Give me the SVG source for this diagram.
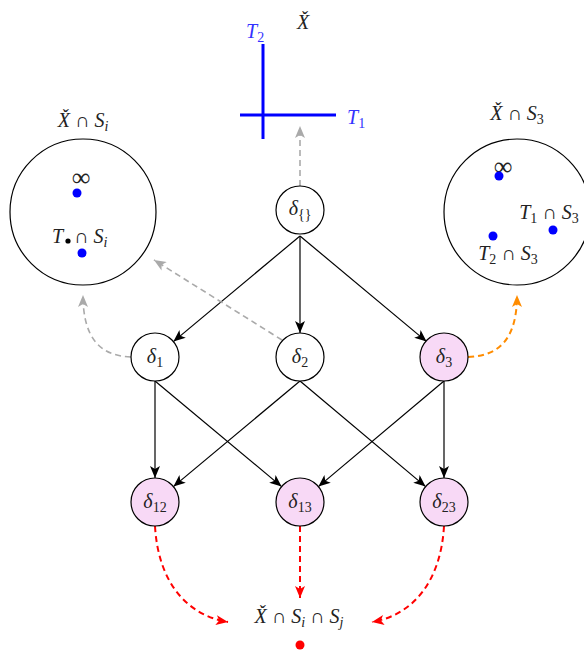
<svg xmlns="http://www.w3.org/2000/svg" width="584" height="650" viewBox="0 0 584 650" font-family="'Liberation Serif', 'DejaVu Serif', serif">
<defs>
<style>
text{font-family:'Liberation Serif','DejaVu Serif',serif;font-size:20px;fill:#222;}
.m{font-style:italic;}
.u{font-style:normal;}
.sub{font-size:14px;font-style:normal;}
.isub{font-size:14px;font-style:italic;}
.node{stroke:#000;stroke-width:1.2;fill:#fff;}
.pink{fill:#f8d9f6;}
.edge{stroke:#000;stroke-width:1.2;fill:none;marker-end:url(#ab);}
.gray{stroke:#aaa;stroke-width:1.6;fill:none;stroke-dasharray:6 4;marker-end:url(#ag);}
.org{stroke:#ff8c00;stroke-width:2;fill:none;stroke-dasharray:6 4;marker-end:url(#ao);}
.red{stroke:#ff0000;stroke-width:2;fill:none;stroke-dasharray:6 4;marker-end:url(#ar);}
.blue{fill:#0000ff;}
.bl{fill:#3333ff;}
</style>
<marker id="ab" viewBox="0 0 12 10" refX="12" refY="5" markerWidth="12" markerHeight="10" markerUnits="userSpaceOnUse" orient="auto"><path d="M0,0 L12,5 L0,10 L3,5 Z" fill="#000"/></marker>
<marker id="ag" viewBox="0 0 12 10" refX="12" refY="5" markerWidth="12" markerHeight="10" markerUnits="userSpaceOnUse" orient="auto"><path d="M0,0 L12,5 L0,10 L3,5 Z" fill="#aaa"/></marker>
<marker id="ao" viewBox="0 0 12 10" refX="12" refY="5" markerWidth="12" markerHeight="10" markerUnits="userSpaceOnUse" orient="auto"><path d="M0,0 L12,5 L0,10 L3,5 Z" fill="#ff8c00"/></marker>
<marker id="ar" viewBox="0 0 12 10" refX="12" refY="5" markerWidth="12" markerHeight="10" markerUnits="userSpaceOnUse" orient="auto"><path d="M0,0 L12,5 L0,10 L3,5 Z" fill="#ff0000"/></marker>
</defs>

<g id="connectors">
<line class="edge" x1="300" y1="236" x2="173.4" y2="341.6"/>
<line class="edge" x1="300" y1="236" x2="300" y2="333"/>
<line class="edge" x1="300" y1="236" x2="426.6" y2="341.6"/>
<line class="edge" x1="155" y1="381" x2="155" y2="478"/>
<line class="edge" x1="155" y1="381" x2="281.6" y2="486.6"/>
<line class="edge" x1="300" y1="381" x2="173.4" y2="486.6"/>
<line class="edge" x1="300" y1="381" x2="425.6" y2="486.6"/>
<line class="edge" x1="444" y1="381" x2="318.4" y2="486.6"/>
<line class="edge" x1="444" y1="381" x2="444" y2="478"/>
<line class="gray" x1="300" y1="186" x2="300" y2="126"/>
<line class="gray" x1="282" y1="340" x2="154" y2="260"/>
<path class="gray" d="M131,357 C100,356 83,338 83,295"/>
<path class="org" d="M468,357 C500,356 517,338 517,295"/>
<path class="red" d="M155,526 C158,580 185,615 228,622"/>
<line class="red" x1="300" y1="526" x2="300" y2="598"/>
<path class="red" d="M444,526 C441,580 414,615 372,622"/>
</g>

<g id="cross">
<line x1="263" y1="44" x2="263" y2="139" stroke="#0000ff" stroke-width="3"/>
<line x1="240" y1="115" x2="336" y2="115" stroke="#0000ff" stroke-width="3"/>
<text class="m bl" x="246" y="38">T<tspan class="sub" dy="4" style="fill:#3333ff">2</tspan></text>
<text class="m bl" x="347" y="124">T<tspan class="sub" dy="4" style="fill:#3333ff">1</tspan></text>
<text class="m" x="303" y="29" text-anchor="middle">X̌</text>
</g>

<g id="left-sphere">
<text class="m" x="83" y="127" text-anchor="middle">X̌ <tspan class="u">∩</tspan> S<tspan class="isub" dy="4">i</tspan></text>
<circle cx="83" cy="212" r="73" fill="none" stroke="#000" stroke-width="1.2"/>
<text class="u" x="81" y="186" text-anchor="middle" style="font-size:26px">∞</text>
<circle class="blue" cx="77" cy="193" r="4.5"/>
<text class="m" x="52" y="243">T</text>
<circle cx="68" cy="241" r="2.6" fill="#000"/>
<text class="m" x="74" y="243"><tspan class="u">∩</tspan> S<tspan class="isub" dy="4">i</tspan></text>
<circle class="blue" cx="82" cy="253" r="4.5"/>
</g>

<g id="right-sphere">
<text class="m" x="517" y="120" text-anchor="middle">X̌ <tspan class="u">∩</tspan> S<tspan class="sub" dy="4">3</tspan></text>
<circle cx="517" cy="212" r="73" fill="none" stroke="#000" stroke-width="1.2"/>
<text class="u" x="503" y="175" text-anchor="middle" style="font-size:26px">∞</text>
<circle class="blue" cx="499" cy="176" r="4.5"/>
<text class="m" x="549" y="219" text-anchor="middle">T<tspan class="sub" dy="4">1</tspan><tspan class="u" dy="-4"> ∩</tspan> S<tspan class="sub" dy="4">3</tspan></text>
<circle class="blue" cx="553" cy="230" r="4.5"/>
<circle class="blue" cx="493" cy="236" r="4.5"/>
<text class="m" x="508" y="260" text-anchor="middle">T<tspan class="sub" dy="4">2</tspan><tspan class="u" dy="-4"> ∩</tspan> S<tspan class="sub" dy="4">3</tspan></text>
</g>

<g id="d0"><circle class="node" cx="300" cy="210" r="24"/><text class="m" x="300" y="215" text-anchor="middle">δ<tspan class="sub" dy="4">{}</tspan></text></g>
<g id="d1"><circle class="node" cx="155" cy="357" r="24"/><text class="m" x="155" y="363" text-anchor="middle">δ<tspan class="sub" dy="4">1</tspan></text></g>
<g id="d2"><circle class="node" cx="300" cy="357" r="24"/><text class="m" x="300" y="363" text-anchor="middle">δ<tspan class="sub" dy="4">2</tspan></text></g>
<g id="d3"><circle class="node pink" cx="444" cy="357" r="24"/><text class="m" x="444" y="363" text-anchor="middle">δ<tspan class="sub" dy="4">3</tspan></text></g>
<g id="d12"><circle class="node pink" cx="155" cy="502" r="24"/><text class="m" x="155" y="508" text-anchor="middle">δ<tspan class="sub" dy="4">12</tspan></text></g>
<g id="d13"><circle class="node pink" cx="300" cy="502" r="24"/><text class="m" x="300" y="508" text-anchor="middle">δ<tspan class="sub" dy="4">13</tspan></text></g>
<g id="d23"><circle class="node pink" cx="444" cy="502" r="24"/><text class="m" x="444" y="508" text-anchor="middle">δ<tspan class="sub" dy="4">23</tspan></text></g>

<g id="target">
<text class="m" x="299" y="623" text-anchor="middle">X̌ <tspan class="u">∩</tspan> S<tspan class="isub" dy="4">i</tspan><tspan class="u" dy="-4"> ∩</tspan> S<tspan class="isub" dy="4">j</tspan></text>
<circle cx="300" cy="645" r="4.5" fill="#ff0000"/>
</g>
</svg>
